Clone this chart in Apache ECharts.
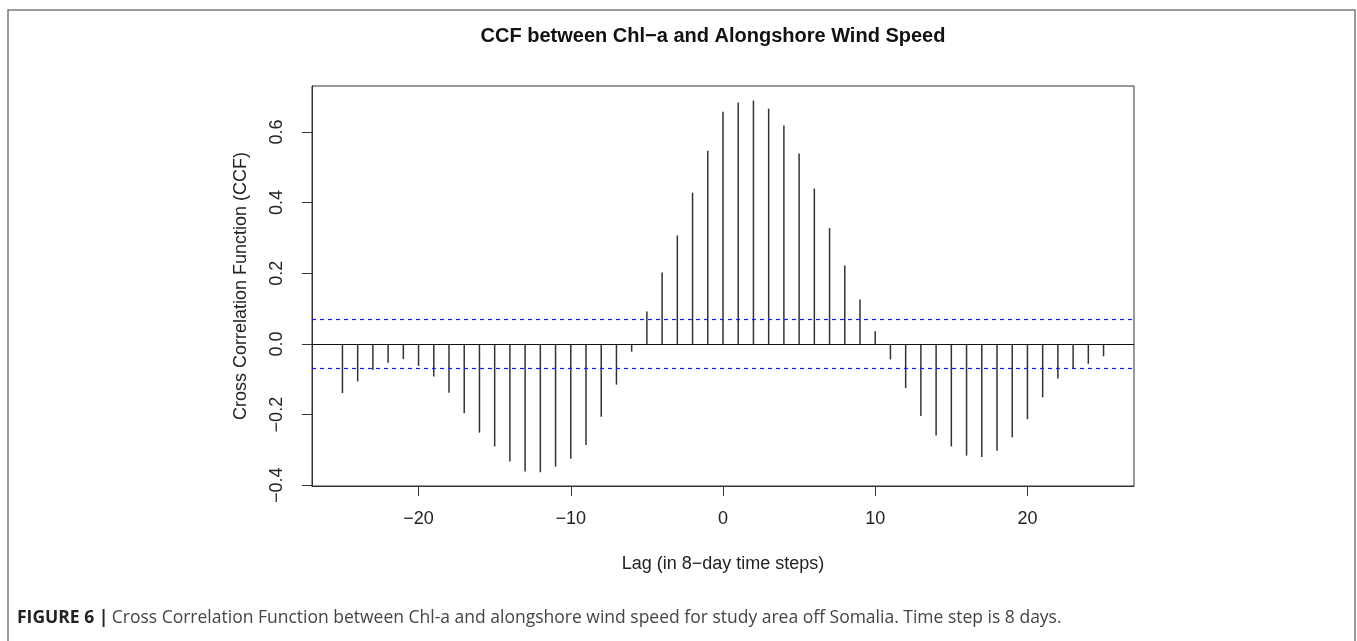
<!DOCTYPE html>
<html>
<head>
<meta charset="utf-8">
<title>CCF between Chl-a and Alongshore Wind Speed</title>
<script src="https://cdn.jsdelivr.net/npm/echarts@6/dist/echarts.min.js"></script>
<style>
  html, body { margin: 0; padding: 0; background: #fff; }
  #chart { width: 1357px; height: 641px; }
</style>
</head>
<body>
<div id="chart"></div>
<script>
// lag (in 8-day steps) and the cross correlation
const lags = [
  -25, -24, -23, -22, -21, -20, -19, -18, -17, -16, -15, -14, -13, -12, -11, -10, -9, -8, -7, -6,
  -5, -4, -3, -2, -1, 0, 1, 2, 3, 4, 5, 6, 7, 8, 9, 10,
  11, 12, 13, 14, 15, 16, 17, 18, 19, 20, 21, 22, 23, 24, 25
];
const ccf = [
  -0.139, -0.106, -0.074, -0.053, -0.043, -0.062, -0.092, -0.138, -0.196, -0.251,
  -0.290, -0.333, -0.361, -0.363, -0.347, -0.325, -0.286, -0.206, -0.115, -0.022,
  0.092, 0.202, 0.307, 0.428, 0.547, 0.657, 0.683, 0.689, 0.666, 0.618,
  0.539, 0.440, 0.328, 0.222, 0.126, 0.036,
  -0.044, -0.125, -0.204, -0.259, -0.290, -0.316, -0.320, -0.302, -0.264, -0.213,
  -0.151, -0.098, -0.071, -0.056, -0.035
];
const confBound = 0.0725;
const xTicks = [-20, -10, 0, 10, 20];
const yTicks = [-0.4, -0.2, 0.0, 0.2, 0.4, 0.6];

const FONT = '"Liberation Sans", Arial, sans-serif';
const chart = echarts.init(document.getElementById('chart'), null, { renderer: 'canvas' });

chart.setOption({
  animation: false,
  backgroundColor: '#ffffff',
  grid: {
    left: 312, right: 223, top: 86, bottom: 155,
    show: true, borderColor: '#333333', borderWidth: 1, backgroundColor: 'transparent'
  },
  xAxis: {
    type: 'value', min: -27, max: 27,
    name: 'Lag (in 8\u2212day time steps)', nameLocation: 'middle', nameGap: 69,
    nameTextStyle: { fontFamily: FONT, fontSize: 18, color: '#222' },
    axisLine: { show: true, onZero: false, lineStyle: { color: '#333' } },
    splitLine: { show: false },
    axisTick: { show: true, customValues: xTicks, length: 10, lineStyle: { color: '#333' } },
    axisLabel: {
      customValues: xTicks, margin: 24, fontFamily: FONT, fontSize: 18, color: '#222',
      formatter: (v) => String(v).replace('-', '\u2212')
    }
  },
  yAxis: {
    type: 'value', min: -0.402, max: 0.73,
    name: 'Cross Correlation Function (CCF)', nameLocation: 'middle', nameGap: 62,
    nameTextStyle: { fontFamily: FONT, fontSize: 18, color: '#222' },
    axisLine: { show: true, onZero: false, lineStyle: { color: '#333' } },
    splitLine: { show: false },
    axisTick: { show: true, customValues: yTicks, length: 10, lineStyle: { color: '#333' } },
    axisLabel: {
      customValues: yTicks, rotate: 90, margin: 26, fontFamily: FONT, fontSize: 18, color: '#222',
      formatter: (v) => v.toFixed(1).replace('-', '\u2212')
    }
  },
  series: [{
    type: 'custom',
    data: lags.map((l, i) => [l, ccf[i]]),
    renderItem: (params, api) => {
      const p0 = api.coord([api.value(0), 0]);
      const p1 = api.coord([api.value(0), api.value(1)]);
      return {
        type: 'line',
        shape: { x1: p0[0], y1: p0[1], x2: p1[0], y2: p1[1] },
        style: { stroke: '#333333', lineWidth: 1.5 }
      };
    },
    markLine: {
      silent: true, symbol: 'none', label: { show: false },
      data: [
        { yAxis: 0, lineStyle: { color: '#111', type: 'solid', width: 1.2 } },
        { yAxis: confBound, lineStyle: { color: '#1a1aff', type: [4, 4], width: 1.2 } },
        { yAxis: -confBound, lineStyle: { color: '#1a1aff', type: [4, 4], width: 1.2 } }
      ]
    }
  }],
  graphic: [
    {
      type: 'rect', silent: true,
      shape: { x: 8, y: 10, width: 1347, height: 700 },
      style: { fill: 'none', stroke: '#7a7a7a', lineWidth: 1.5 }
    },
    {
      type: 'text', x: 713, y: 36,
      style: {
        text: 'CCF between Chl\u2212a and Alongshore Wind Speed',
        font: 'bold 20px ' + FONT, fill: '#111',
        textAlign: 'center', textVerticalAlign: 'middle'
      }
    },
    {
      type: 'text', x: 17, y: 618,
      style: {
        text: '{b|FIGURE 6 |} {r|Cross Correlation Function between Chl-a and alongshore wind speed for study area off Somalia. Time step is 8 days.}',
        textVerticalAlign: 'middle',
        rich: {
          b: { font: 'bold 17.5px "Open Sans", ' + FONT, fill: '#222' },
          r: { font: '17.5px "Open Sans", ' + FONT, fill: '#444' }
        }
      }
    }
  ]
});
</script>
</body>
</html>
